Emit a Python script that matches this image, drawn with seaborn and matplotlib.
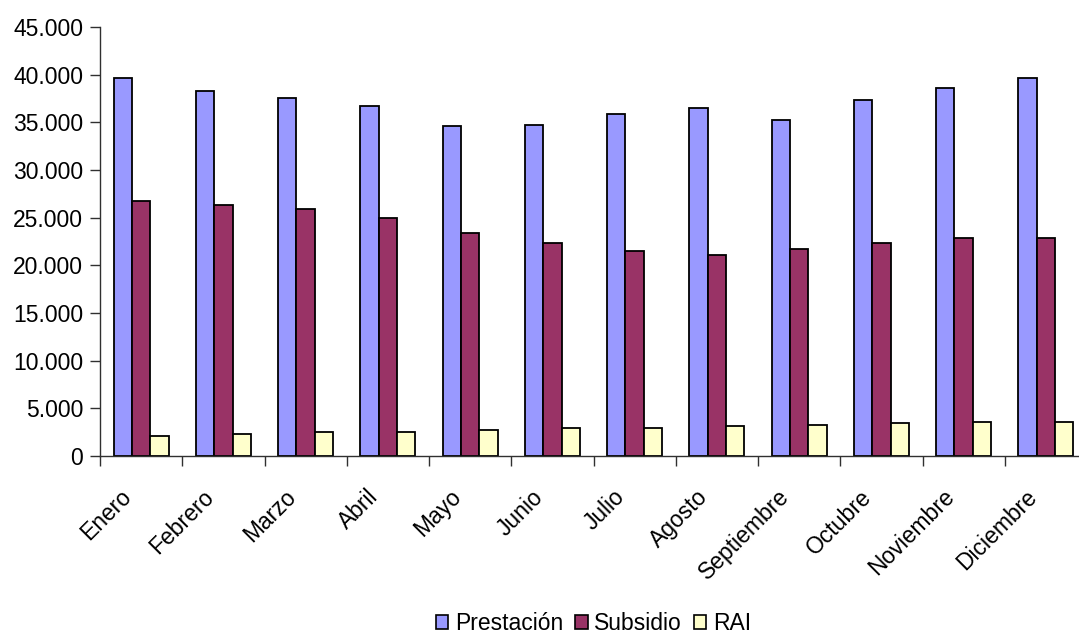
import pandas as pd
import numpy as np
import matplotlib
matplotlib.use("Agg")
import matplotlib.pyplot as plt
import matplotlib.transforms as mtransforms
from matplotlib.patches import Patch
from matplotlib.ticker import FuncFormatter, FixedLocator
import seaborn as sns

meses = ["Enero", "Febrero", "Marzo", "Abril", "Mayo", "Junio", "Julio",
         "Agosto", "Septiembre", "Octubre", "Noviembre", "Diciembre"]
prestacion = [39600, 38300, 37600, 36700, 34600, 34700, 35900, 36500, 35200, 37300, 38600, 39600]
subsidio = [26700, 26300, 25900, 25000, 23400, 22300, 21500, 21100, 21700, 22300, 22900, 22900]
rai = [2100, 2300, 2500, 2500, 2700, 2900, 2900, 3100, 3200, 3500, 3600, 3600]

series = ["Prestación", "Subsidio", "RAI"]
colores = {"Prestación": "#9999FF", "Subsidio": "#993366", "RAI": "#FFFFCC"}

df = pd.DataFrame({
    "mes": meses * 3,
    "serie": [series[0]] * 12 + [series[1]] * 12 + [series[2]] * 12,
    "valor": prestacion + subsidio + rai,
})

sns.set_style("white")
plt.rcParams["font.family"] = ["Liberation Sans", "DejaVu Sans"]
plt.rcParams["text.color"] = "black"
plt.rcParams["xtick.color"] = "black"
plt.rcParams["ytick.color"] = "black"

fig = plt.figure(figsize=(10.79, 6.35), dpi=100)
ax = fig.add_axes([100 / 1079, (635 - 456) / 635, (1087 - 100) / 1079, (456 - 27) / 635])

sns.barplot(data=df, x="mes", y="valor", hue="serie", order=meses, hue_order=series,
            palette=colores, saturation=1, width=0.67, edgecolor="black", linewidth=1.3,
            legend=False, ax=ax)

ax.set_xlim(-0.5, 11.5)
ax.set_ylim(0, 45000)
ax.set_yticks(np.arange(0, 45001, 5000))
ax.yaxis.set_major_formatter(FuncFormatter(lambda v, p: f"{v:,.0f}".replace(",", ".")))
ax.set_xlabel("")
ax.set_ylabel("")

for s in ["top", "right"]:
    ax.spines[s].set_visible(False)
for s in ["left", "bottom"]:
    ax.spines[s].set_color("#303030")
    ax.spines[s].set_linewidth(1.0)

ax.tick_params(axis="y", which="major", length=7, width=1, color="#303030",
               direction="out", labelsize=16.5, labelcolor="black", pad=5, left=True)
ax.tick_params(axis="x", which="major", length=0, labelsize=16.5, labelcolor="black", pad=27)
ax.xaxis.set_minor_locator(FixedLocator(np.arange(-0.5, 12, 1)))
ax.tick_params(axis="x", which="minor", length=7, width=1, color="#303030",
               direction="out", bottom=True)

offset = mtransforms.ScaledTranslation(-13 / 100, 0, fig.dpi_scale_trans)
for lbl in ax.get_xticklabels():
    lbl.set_rotation(45)
    lbl.set_ha("right")
    lbl.set_va("center")
    lbl.set_rotation_mode("anchor")
    lbl.set_transform(lbl.get_transform() + offset)

handles = [Patch(facecolor=colores[s], edgecolor="black", linewidth=1.2, label=s) for s in series]
fig.legend(handles=handles, loc="center", bbox_to_anchor=(593.5 / 1079, 1 - 624 / 635),
           ncol=3, frameon=False, fontsize=16.5, handlelength=0.55, handleheight=0.55,
           handletextpad=0.3, columnspacing=0.5)

fig.savefig("out.png", dpi=100)
